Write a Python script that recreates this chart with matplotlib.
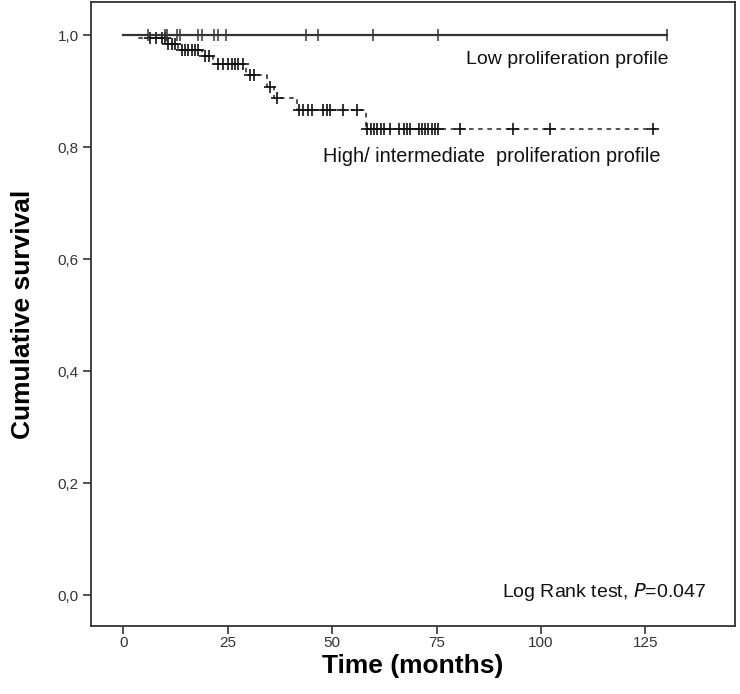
import numpy as np
import matplotlib.pyplot as plt

plt.rcParams['font.family'] = ['Liberation Sans', 'DejaVu Sans']

# Low proliferation profile: no events, only censored cases
low_end = 130.1
low_censor = [5.9, 10.0, 10.6, 12.8, 13.5, 17.8, 18.8, 21.8, 22.8, 24.6,
              43.7, 46.7, 59.7, 75.4, 130.1]

# High/intermediate proliferation profile: step times and survival after step
high_times = [0, 3.0, 10.5, 13.2, 18.8, 21.5, 29.5, 34.5, 36.2, 41.5, 58.0]
high_surv = [1.0, 0.994, 0.985, 0.973, 0.962, 0.948, 0.928, 0.908, 0.888, 0.867, 0.832]
high_end = 127.5
high_censor = [6.3, 7.9, 9.3, 10.0, 10.8, 11.7, 12.5,
               14.0, 14.8, 15.6, 16.4, 17.2, 18.0, 19.6, 20.5,
               22.8, 24.0, 25.1, 26.0, 26.8, 27.5, 28.7, 30.4, 31.2,
               35.2, 36.8, 42.0, 43.0, 44.3, 45.1, 47.9, 48.7, 49.5, 52.7, 55.9,
               58.3, 59.3, 60.0, 60.8, 61.6, 62.4, 63.9, 65.9, 67.1, 67.9,
               68.7, 70.7, 71.5, 72.2, 73.0, 73.8, 74.6, 75.4, 80.5,
               93.4, 102.2, 126.9]

xticks = [0, 25, 50, 75, 100, 125]
yticks = [0.0, 0.2, 0.4, 0.6, 0.8, 1.0]

fig = plt.figure(figsize=(7.4, 6.94), dpi=100)
ax = fig.add_axes([0.123, 0.098, 0.870, 0.899])

# high group (dashed step curve)
hx = high_times + [high_end]
hy = high_surv + [high_surv[-1]]
ax.step(hx, hy, where='post', color='#222222', lw=1.1, ls=(0, (3, 3)))
idx = np.searchsorted(high_times, high_censor, side='right') - 1
ax.plot(high_censor, np.array(high_surv)[idx], ls='none', marker='+',
        ms=8, mew=1.2, color='#111111')

# low group (solid line)
ax.plot([0, low_end], [1.0, 1.0], color='#333333', lw=1.6)
ax.plot(low_censor, np.ones(len(low_censor)), ls='none', marker='|',
        ms=9, mew=1.1, color='#333333')

ax.set_xlim(-7.7, 146.4)
ax.set_ylim(-0.055, 1.059)
ax.set_xticks(xticks)
ax.set_yticks(yticks)
ax.set_xticklabels([str(t) for t in xticks])
ax.set_yticklabels([f'{v:.1f}'.replace('.', ',') for v in yticks])
ax.tick_params(length=6, width=1.2, color='#333333', labelcolor='#333333',
               labelsize=11, pad=3)
ax.tick_params(axis='x', pad=1)
for sp in ax.spines.values():
    sp.set_linewidth(1.3)
    sp.set_color('#333333')

ax.set_xlabel('Time (months)', fontsize=19, fontweight='bold', labelpad=3)
ax.set_ylabel('Cumulative survival', fontsize=19, fontweight='bold', labelpad=16)

ax.text(130.5, 0.957, 'Low proliferation profile', fontsize=14,
        ha='right', va='center', color='#111111')
ax.text(128.5, 0.783, 'High/ intermediate  proliferation profile', fontsize=14.3,
        ha='right', va='center', color='#111111')
ax.text(139.5, 0.005, 'Log Rank test, $\\it{P}$=0.047', fontsize=14,
        ha='right', va='center', color='#111111')

fig.savefig('out.png', dpi=100)
